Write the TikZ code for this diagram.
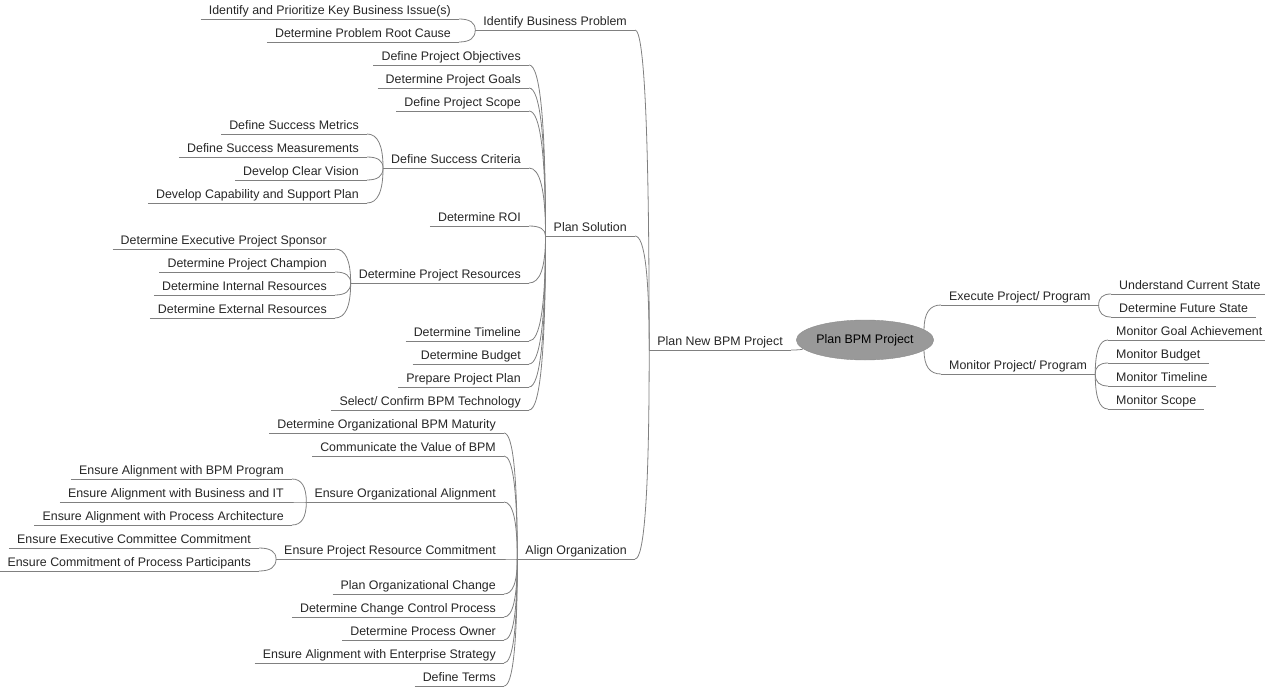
\documentclass[tikz,border=0pt]{standalone}
\usepackage{fontspec}
\newfontfamily\mapfont{Liberation Sans}
\usetikzlibrary{shapes.geometric,calc}
\definecolor{linegray}{RGB}{128,128,128}
\definecolor{rootgray}{RGB}{153,153,153}
\definecolor{rootedge}{RGB}{140,140,140}
\tikzset{
x=1pt, y=-1pt,
lnk/.style={draw=linegray, line width=0.8pt},
topic/.style={font=\mapfont\fontsize{12.4}{14}\selectfont, text=black!85,
  text height=9pt, text depth=3pt, inner ysep=1.5pt, inner xsep=8pt,
  append after command={(\tikzlastnode.south west) edge[lnk] (\tikzlastnode.south east)}},
lt/.style={topic, anchor=south east},
rt/.style={topic, anchor=south west},
root/.style={ellipse, fill=rootgray, draw=rootedge, minimum width=116pt,
  minimum height=40pt, inner sep=0pt, font=\mapfont\fontsize{12.4}{14}\selectfont},
branch/.style={lnk, to path={.. controls ($(\tikztostart)!.67!(\tikztostart -| \tikztotarget)$)
  and ($(\tikztotarget)!.67!(\tikztostart -| \tikztotarget)$) .. (\tikztotarget)}},
}

\begin{document}
\begin{tikzpicture}
        \useasboundingbox (0,0) rectangle (1265,687);

        % centre
        \node[root] (root) at (865,340) {Plan BPM Project};
        \node[lt] (pnew) at (791,350) {Plan New BPM Project};
        \node[rt] (epp) at (941,305) {Execute Project/ Program};
        \node[rt] (mpp) at (941,374) {Monitor Project/ Program};

        % left, first level
        \node[lt] (ibp) at (635,30) {Identify Business Problem};
        \node[lt] (ps) at (635,236) {Plan Solution};
        \node[lt] (ao) at (635,559) {Align Organization};

        % identify business problem
        \node[lt] (ipk) at (459,19) {Identify and Prioritize Key Business Issue(s)};
        \node[lt] (dprc) at (459,42) {Determine Problem Root Cause};

        % plan solution
        \node[lt] (dpo) at (529,65) {Define Project Objectives};
        \node[lt] (dpg) at (529,88) {Determine Project Goals};
        \node[lt] (dps) at (529,111) {Define Project Scope};
        \node[lt] (dsc) at (529,168) {Define Success Criteria};
        \node[lt] (droi) at (529,226) {Determine ROI};
        \node[lt] (dpr) at (529,283) {Determine Project Resources};
        \node[lt] (dtl) at (529,341) {Determine Timeline};
        \node[lt] (dbu) at (529,364) {Determine Budget};
        \node[lt] (ppp) at (529,387) {Prepare Project Plan};
        \node[lt] (sct) at (529,410) {Select/ Confirm BPM Technology};

        \node[lt] (dsmt) at (367,134) {Define Success Metrics};
        \node[lt] (dsms) at (367,157) {Define Success Measurements};
        \node[lt] (dcv) at (367,180) {Develop Clear Vision};
        \node[lt] (dcsp) at (367,203) {Develop Capability and Support Plan};

        \node[lt] (deps) at (335,249) {Determine Executive Project Sponsor};
        \node[lt] (dpc) at (335,272) {Determine Project Champion};
        \node[lt] (dir) at (335,295) {Determine Internal Resources};
        \node[lt] (der) at (335,318) {Determine External Resources};

        % align organization
        \node[lt] (dobm) at (504,433) {Determine Organizational BPM Maturity};
        \node[lt] (cvb) at (504,456) {Communicate the Value of BPM};
        \node[lt] (eoa) at (504,502) {Ensure Organizational Alignment};
        \node[lt] (eprc) at (504,559) {Ensure Project Resource Commitment};
        \node[lt] (poc) at (504,594) {Plan Organizational Change};
        \node[lt] (dccp) at (504,617) {Determine Change Control Process};
        \node[lt] (dpow) at (504,640) {Determine Process Owner};
        \node[lt] (eaes) at (504,663) {Ensure Alignment with Enterprise Strategy};
        \node[lt] (dt) at (504,686) {Define Terms};

        \node[lt] (eabp) at (292,479) {Ensure Alignment with BPM Program};
        \node[lt] (eabi) at (292,502) {Ensure Alignment with Business and IT};
        \node[lt] (eapa) at (292,525) {Ensure Alignment with Process Architecture};

        \node[lt] (eecc) at (259,548) {Ensure Executive Committee Commitment};
        \node[lt] (ecpp) at (259,571) {Ensure Commitment of Process Participants};

        % right side
        \node[rt] (ucs) at (1111,294) {Understand Current State};
        \node[rt] (dfs) at (1111,317) {Determine Future State};
        \node[rt] (mga) at (1108,340) {Monitor Goal Achievement};
        \node[rt] (mbu) at (1108,363) {Monitor Budget};
        \node[rt] (mtl) at (1108,386) {Monitor Timeline};
        \node[rt] (msc) at (1108,409) {Monitor Scope};

        % branches
        \draw (pnew.south east) edge[branch] (root.188)
              (epp.south west) edge[branch] (root.10)
              (mpp.south west) edge[branch] (root.-10);
        \draw (ibp.south east) edge[branch] (pnew.south west)
              (ps.south east) edge[branch] (pnew.south west)
              (ao.south east) edge[branch] (pnew.south west);
        \draw (ipk.south east) edge[branch] (ibp.south west)
              (dprc.south east) edge[branch] (ibp.south west);
        \draw (dpo.south east) edge[branch] (ps.south west)
              (dpg.south east) edge[branch] (ps.south west)
              (dps.south east) edge[branch] (ps.south west)
              (dsc.south east) edge[branch] (ps.south west)
              (droi.south east) edge[branch] (ps.south west)
              (dpr.south east) edge[branch] (ps.south west)
              (dtl.south east) edge[branch] (ps.south west)
              (dbu.south east) edge[branch] (ps.south west)
              (ppp.south east) edge[branch] (ps.south west)
              (sct.south east) edge[branch] (ps.south west);
        \draw (dsmt.south east) edge[branch] (dsc.south west)
              (dsms.south east) edge[branch] (dsc.south west)
              (dcv.south east) edge[branch] (dsc.south west)
              (dcsp.south east) edge[branch] (dsc.south west);
        \draw (deps.south east) edge[branch] (dpr.south west)
              (dpc.south east) edge[branch] (dpr.south west)
              (dir.south east) edge[branch] (dpr.south west)
              (der.south east) edge[branch] (dpr.south west);
        \draw (dobm.south east) edge[branch] (ao.south west)
              (cvb.south east) edge[branch] (ao.south west)
              (eoa.south east) edge[branch] (ao.south west)
              (eprc.south east) edge[branch] (ao.south west)
              (poc.south east) edge[branch] (ao.south west)
              (dccp.south east) edge[branch] (ao.south west)
              (dpow.south east) edge[branch] (ao.south west)
              (eaes.south east) edge[branch] (ao.south west)
              (dt.south east) edge[branch] (ao.south west);
        \draw (eabp.south east) edge[branch] (eoa.south west)
              (eabi.south east) edge[branch] (eoa.south west)
              (eapa.south east) edge[branch] (eoa.south west);
        \draw (eecc.south east) edge[branch] (eprc.south west)
              (ecpp.south east) edge[branch] (eprc.south west);
        \draw (ucs.south west) edge[branch] (epp.south east)
              (dfs.south west) edge[branch] (epp.south east);
        \draw (mga.south west) edge[branch] (mpp.south east)
              (mbu.south west) edge[branch] (mpp.south east)
              (mtl.south west) edge[branch] (mpp.south east)
              (msc.south west) edge[branch] (mpp.south east);
    \end{tikzpicture}
\end{document}
